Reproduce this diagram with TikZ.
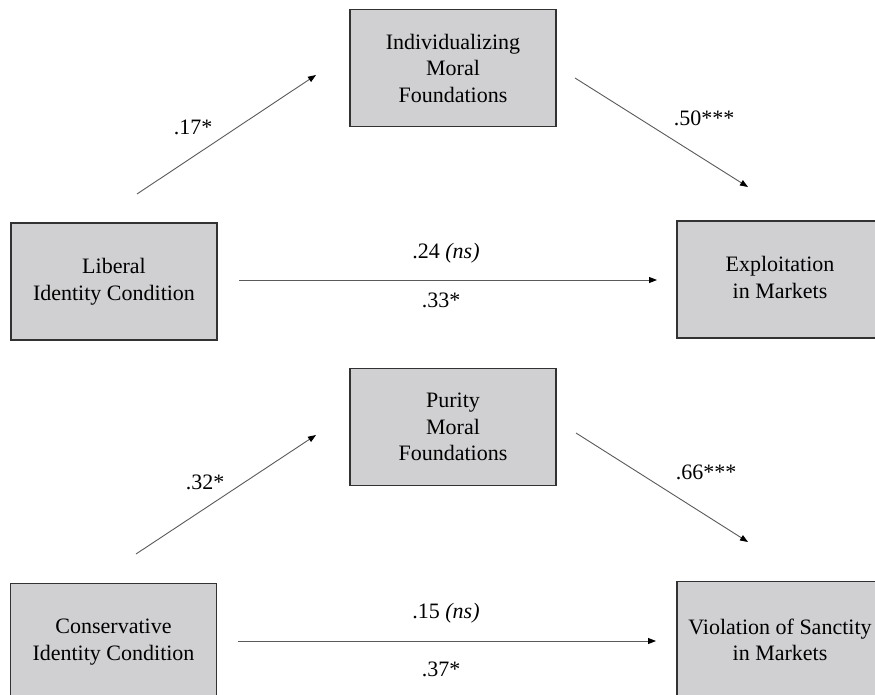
\documentclass[tikz,border=0pt]{standalone}
\usepackage{fontspec}
\setmainfont{Liberation Serif}
\usetikzlibrary{arrows.meta}
\definecolor{boxfill}{RGB}{208,207,209}
\definecolor{boxline}{RGB}{50,50,50}
\definecolor{arrline}{RGB}{90,90,90}
\begin{document}
\begin{tikzpicture}[x=1pt,y=-1pt,
  varbox/.style={draw=boxline,fill=boxfill,line width=1.3pt,minimum width=206pt,minimum height=117pt,inner sep=0pt,align=center,font=\fontsize{22}{26.5}\selectfont},
  path/.style={draw=arrline,line width=0.9pt,-{Triangle[length=8pt,width=6pt,fill=black,color=black]}},
  coef/.style={font=\fontsize{22}{26}\selectfont,inner sep=0pt}]
\clip (0,0) rectangle (875,695);
\fill[white] (0,0) rectangle (875,695);
% top model
\node[varbox] (ind) at (453,68) {Individualizing\\Moral\\Foundations};
\node[varbox] (lib) at (114,281.5) {Liberal\\Identity Condition};
\node[varbox] (exp) at (780,279.5) {\raisebox{10pt}{\begin{tabular}{@{}c@{}}Exploitation\\in Markets\end{tabular}}};
\coordinate (a1s) at (137,194); \coordinate (a1e) at (316,75);
\coordinate (a2s) at (575,78);  \coordinate (a2e) at (748,187);
\coordinate (a3s) at (239,280); \coordinate (a3e) at (657,280);
\draw[path] (a1s) -- (a1e);
\draw[path] (a2s) -- (a2e);
\draw[path] (a3s) -- (a3e);
\node[coef] (c17) at (193,127) {.17*};
\node[coef] (c50) at (704,118) {.50***};
\node[coef] (c24) at (446,253) {.24 \textit{(ns)}};
\node[coef] (c33) at (441,300) {.33*};
% bottom model
\node[varbox] (pur) at (453,427) {Purity\\Moral\\Foundations};
\node[varbox] (con) at (113.5,642) {Conservative\\Identity Condition};
\node[varbox] (vio) at (780,640) {Violation of Sanctity\\in Markets};
\coordinate (b1s) at (136,554); \coordinate (b1e) at (316,435);
\coordinate (b2s) at (576,433); \coordinate (b2e) at (748,542);
\coordinate (b3s) at (238,641); \coordinate (b3e) at (656,641);
\draw[path] (b1s) -- (b1e);
\draw[path] (b2s) -- (b2e);
\draw[path] (b3s) -- (b3e);
\node[coef] (c32) at (205,482) {.32*};
\node[coef] (c66) at (706,472) {.66***};
\node[coef] (c15) at (446,613) {.15 \textit{(ns)}};
\node[coef] (c37) at (441,669) {.37*};
\end{tikzpicture}
\end{document}
